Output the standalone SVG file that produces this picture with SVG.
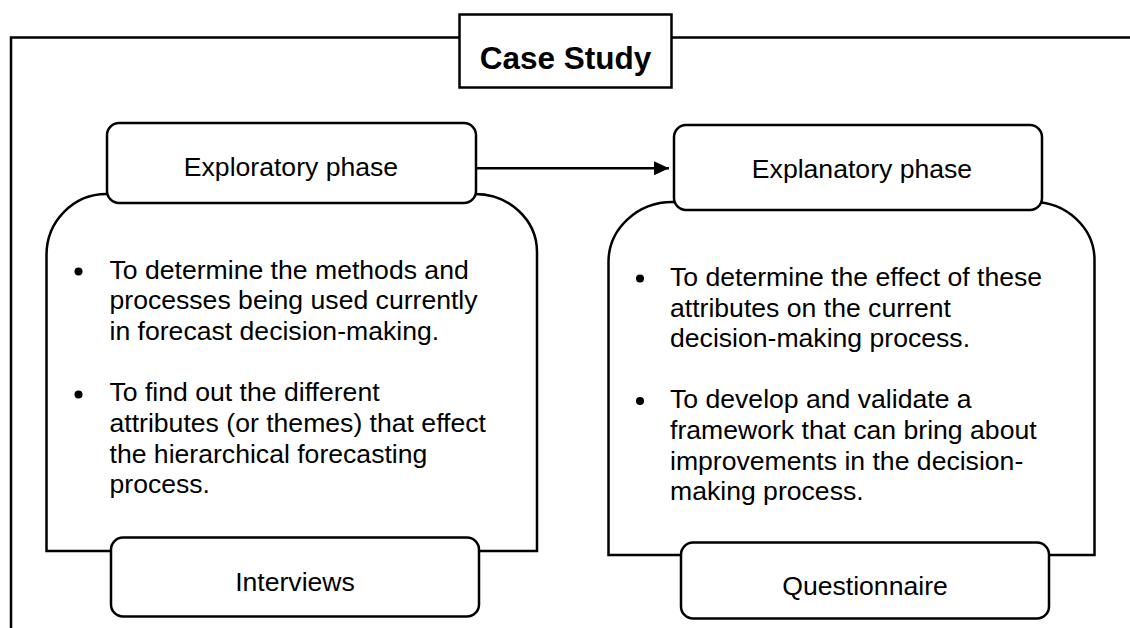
<svg xmlns="http://www.w3.org/2000/svg" width="1130" height="628" viewBox="0 0 1130 628">
<style>
.ln{fill:none;stroke:#000;stroke-width:2.5}
.bx{fill:#fff;stroke:#000;stroke-width:2.5}
.t{font-family:"Liberation Sans",Arial,sans-serif;font-size:26.6px;fill:#000}
.c{text-anchor:middle}
.h{font-family:"Liberation Sans",Arial,sans-serif;font-size:31.5px;font-weight:bold;fill:#000;text-anchor:middle}
</style>
<defs>
<marker id="ah" markerWidth="16" markerHeight="14" refX="15" refY="7" orient="auto" markerUnits="userSpaceOnUse">
<path d="M0,0 L15,7 L0,14 Z" fill="#000"/>
</marker>
</defs>
<rect width="1130" height="628" fill="#fff"/>
<g id="frame">
<path class="ln" d="M11,628 V37.5 H1132"/>
</g>
<g id="case-study">
<rect class="bx" x="459.5" y="14.5" width="212" height="73"/>
<text class="h" x="565.5" y="68.5">Case Study</text>
</g>
<g id="exploratory-body">
<path class="bx" d="M46.5,551 V255 A60,61 0 0 1 106.5,194 H475 A62,58 0 0 1 537,252 V551 Z"/>
<circle cx="78.5" cy="271.5" r="4"/>
<text class="t" x="109.5" y="278.5">To determine the methods and</text>
<text class="t" x="109.5" y="309.2">processes being used currently</text>
<text class="t" x="109.5" y="339.9">in forecast decision-making.</text>
<circle cx="78.5" cy="394.5" r="4"/>
<text class="t" x="109.5" y="401.3">To find out the different</text>
<text class="t" x="109.5" y="432">attributes (or themes) that effect</text>
<text class="t" x="109.5" y="462.7">the hierarchical forecasting</text>
<text class="t" x="109.5" y="493.4">process.</text>
</g>
<g id="explanatory-body">
<path class="bx" d="M608.5,555 V262 A64,60 0 0 1 672.5,202 H1032 A62,58 0 0 1 1094.5,260 V555 Z"/>
<circle cx="640" cy="278.5" r="4"/>
<text class="t" x="670" y="286">To determine the effect of these</text>
<text class="t" x="670" y="316.6">attributes on the current</text>
<text class="t" x="670" y="347.2">decision-making process.</text>
<circle cx="640" cy="401" r="4"/>
<text class="t" x="670" y="408.4">To develop and validate a</text>
<text class="t" x="670" y="439">framework that can bring about</text>
<text class="t" x="670" y="469.6">improvements in the decision-</text>
<text class="t" x="670" y="500.2">making process.</text>
</g>
<g id="exploratory-phase">
<rect class="bx" x="107" y="123" width="369" height="80" rx="12"/>
<text class="t c" x="291" y="175.7">Exploratory phase</text>
</g>
<g id="explanatory-phase">
<rect class="bx" x="674" y="125" width="368" height="85" rx="12"/>
<text class="t c" x="862" y="178.3">Explanatory phase</text>
</g>
<g id="interviews">
<rect class="bx" x="111" y="537.5" width="368" height="79" rx="12"/>
<text class="t c" x="295" y="590.7">Interviews</text>
</g>
<g id="questionnaire">
<rect class="bx" x="681" y="542.5" width="368" height="76" rx="12"/>
<text class="t c" x="865" y="595">Questionnaire</text>
</g>
<g id="connectors">
<line class="ln" x1="476" y1="168.3" x2="669" y2="168.3" marker-end="url(#ah)"/>
</g>
</svg>
